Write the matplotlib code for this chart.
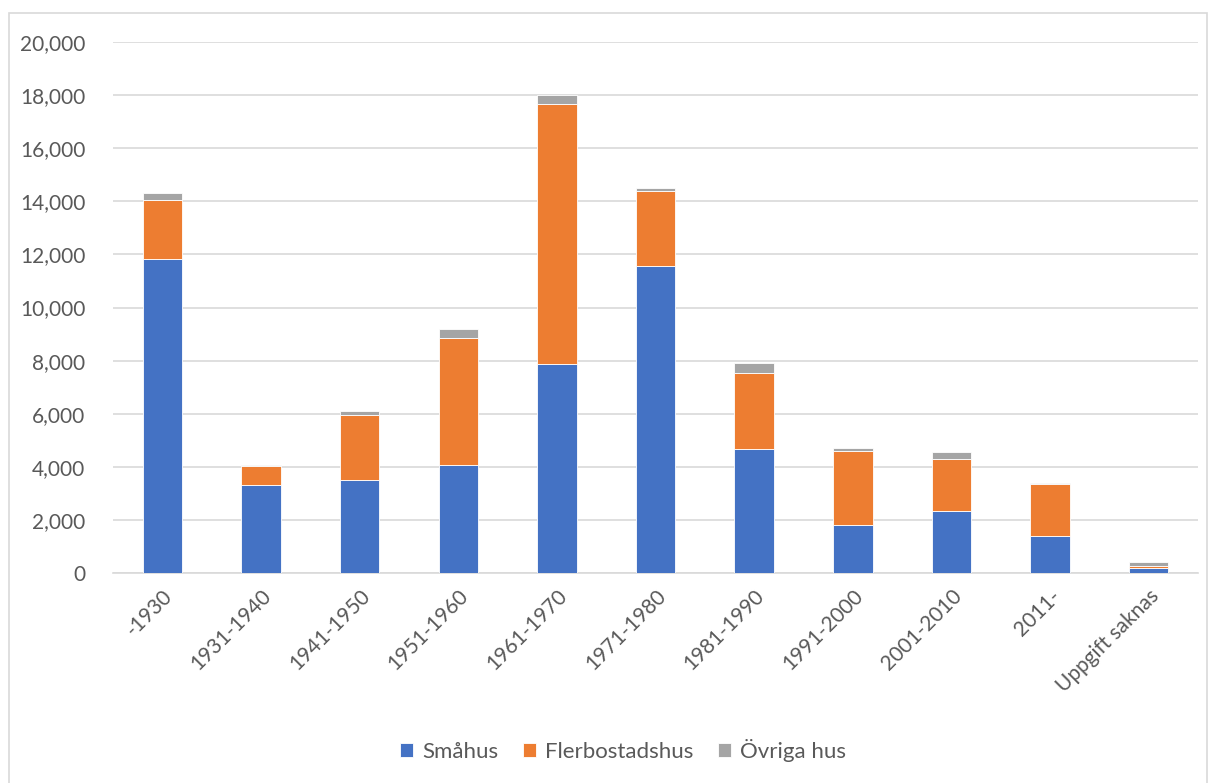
import numpy as np
import matplotlib.pyplot as plt
from matplotlib.patches import Rectangle

plt.rcParams['font.family'] = ['Lato', 'DejaVu Sans']

periods = ['-1930', '1931-1940', '1941-1950', '1951-1960', '1961-1970', '1971-1980',
           '1981-1990', '1991-2000', '2001-2010', '2011-', 'Uppgift saknas']
smahus = [11840, 3330, 3520, 4080, 7870, 11570, 4660, 1810, 2340, 1390, 180]
flerbostadshus = [2210, 690, 2430, 4770, 9780, 2800, 2880, 2770, 1940, 1960, 70]
ovriga = [280, 40, 140, 350, 340, 140, 380, 140, 290, 50, 150]

textColor = '#595959'
barWidth = 0.4

fig = plt.figure(figsize=(12.17, 7.83), dpi=100)
ax = fig.add_axes([113 / 1217, 1 - 573 / 783, 1085 / 1217, 531 / 783])

x = np.arange(len(periods))
s = np.array(smahus)
f = np.array(flerbostadshus)
o = np.array(ovriga)

ax.bar(x, s, width=barWidth, color='#4472C4', edgecolor='white', linewidth=0.6, label='Småhus', zorder=3)
ax.bar(x, f, width=barWidth, bottom=s, color='#ED7D31', edgecolor='white', linewidth=0.6, label='Flerbostadshus', zorder=3)
ax.bar(x, o, width=barWidth, bottom=s + f, color='#A5A5A5', edgecolor='white', linewidth=0.6, label='Övriga hus', zorder=3)

ax.set_xlim(-0.5, len(periods) - 0.5)
ax.set_ylim(0, 20000)
ax.set_yticks(np.arange(0, 20001, 2000))
ax.yaxis.set_major_formatter(plt.FuncFormatter(lambda v, p: f'{int(v):,}'))
ax.grid(axis='y', color='#D9D9D9', linewidth=1.2, zorder=0)
for side in ['top', 'right', 'left']:
    ax.spines[side].set_visible(False)
ax.spines['bottom'].set_color('#D9D9D9')
ax.spines['bottom'].set_linewidth(1.2)
ax.tick_params(axis='both', length=0, colors=textColor, labelsize=15)
ax.tick_params(axis='y', pad=20)
ax.set_xticks(x)
ax.set_xticklabels(periods, rotation=45, ha='right', rotation_mode='anchor')
ax.tick_params(axis='x', pad=9)

leg = fig.legend(loc='center', bbox_to_anchor=(623 / 1217, 1 - 750 / 783), ncol=3, frameon=False,
                 fontsize=16, handlelength=0.6, handleheight=0.6, columnspacing=1.1, handletextpad=0.4)
for t in leg.get_texts():
    t.set_color(textColor)

fig.patches.append(Rectangle((9 / 1217, -0.01), 1198 / 1217, 1 - 13 / 783 + 0.01,
                             transform=fig.transFigure, fill=False, edgecolor='#D9D9D9', linewidth=1.2))

fig.savefig('out.png', dpi=100)
